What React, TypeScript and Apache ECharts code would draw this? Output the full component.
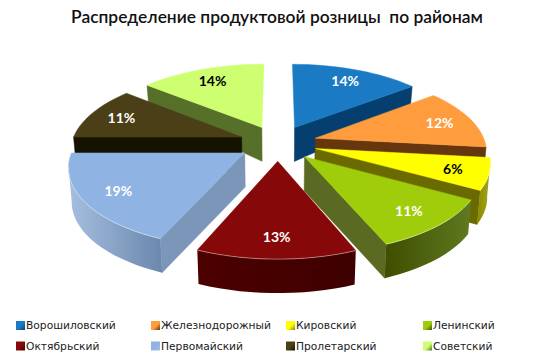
import React, { useEffect, useRef } from "react";
import * as echarts from "echarts";

const titleText = "Распределение продуктовой розницы  по районам";
const districts = ["Ворошиловский", "Железнодорожный", "Кировский", "Ленинский", "Октябрьский", "Первомайский", "Пролетарский", "Советский"];
const shares = [14.4, 12.4, 6.4, 10.6, 12.6, 18.6, 11, 14];
const topColors = ["#1a7bc4", "#ff9c3e", "#ffff00", "#9fcd0b", "#870808", "#8fb4e3", "#4a3f16", "#ceff70"];
const wallColors = ["#043f6f", "#66360f", "#6a6a00", "#5a6a22", "#3f0000", "#7b96b8", "#151300", "#56702a"];
const rimLeft = ["#043f6f", "#66360f", "#8a8a00", "#3f4d00", "#4d0000", "#a5bfdf", "#151300", "#56702a"];
const rimRight = ["#043f6f", "#66360f", "#a5a520", "#5f7a20", "#3e0000", "#6a88ad", "#151300", "#56702a"];
const labelColors = ["#fff", "#fff", "#000", "#fff", "#fff", "#fff", "#fff", "#000"];
const legendColumns = [
  { left: 16, names: [districts[0], districts[4]] },
  { left: 151, names: [districts[1], districts[5]] },
  { left: 286, names: [districts[2], districts[6]] },
  { left: 423, names: [districts[3], districts[7]] },
];

const CX = 278, CY = 143, RX = 170, RY = 77, PERSP = 0.15, EXPLODE = 0.23;
const rad = (d: number) => (d * Math.PI) / 180;
const total = shares.reduce((a, b) => a + b, 0);

function project(u: number, v: number, bottom: boolean): number[] {
  const w = 1 + PERSP * v;
  let x = CX + (RX * u) / w;
  let y = CY - (RY * v) / w;
  if (bottom) {
    const depth = v <= 0.2 ? 34 : 34 - (v - 0.2) * 17;
    x = CX + (x - CX) * 0.985;
    y += depth;
  }
  return [x, y];
}

function sliceAngles(i: number) {
  const before = shares.slice(0, i).reduce((a, b) => a + b, 0);
  const t0 = (before / total) * 360;
  const t1 = ((before + shares[i]) / total) * 360;
  return { t0, t1, tm: (t0 + t1) / 2 };
}

function renderSlice(i: number) {
  const { t0, t1, tm } = sliceAngles(i);
  const ox = EXPLODE * Math.sin(rad(tm));
  const oy = EXPLODE * Math.cos(rad(tm));
  const pt = (t: number, r: number, bottom: boolean) => project(ox + r * Math.sin(rad(t)), oy + r * Math.cos(rad(t)), bottom);

  const ts: number[] = [];
  for (let t = t0; t < t1; t += 3) ts.push(t);
  ts.push(t1);
  const apex = pt(0, 0, false);
  const apexB = pt(0, 0, true);
  const rim = ts.map((t) => pt(t, 1, false));
  const rimB = ts.map((t) => pt(t, 1, true));
  const mid = pt(tm, 1, false);
  const children: any[] = [];

  const radial = (t: number) => {
    const b = pt(t, 1, false);
    const dx = b[0] - apex[0];
    if (Math.abs(dx) < 10) return;
    const lineY = apex[1] + ((b[1] - apex[1]) * (mid[0] - apex[0])) / dx;
    if (mid[1] < lineY) {
      children.push({
        type: "polygon",
        shape: { points: [apex, b, pt(t, 1, true), apexB] },
        style: { fill: wallColors[i], stroke: wallColors[i], lineWidth: 0.5 },
      });
    }
  };
  radial(t0);
  radial(t1);

  const upper: number[][] = [];
  const lower: number[][] = [];
  for (let k = 0; k < rim.length - 1; k++) {
    if (rim[k + 1][0] < rim[k][0]) {
      if (!upper.length) {
        upper.push(rim[k]);
        lower.push(rimB[k]);
      }
      upper.push(rim[k + 1]);
      lower.push(rimB[k + 1]);
    }
  }
  if (upper.length) {
    children.push({
      type: "polygon",
      shape: { points: [...upper, ...lower.slice().reverse()] },
      style: {
        fill: new echarts.graphic.LinearGradient(0, 0, 1, 0, [
          { offset: 0, color: rimLeft[i] },
          { offset: 1, color: rimRight[i] },
        ]),
      },
    });
  }

  children.push({
    type: "polygon",
    shape: { points: [apex, ...rim] },
    style: { fill: topColors[i], stroke: topColors[i], lineWidth: 0.5 },
  });

  if (upper.length) {
    children.push({
      type: "polyline",
      shape: { points: upper },
      style: { fill: "none", stroke: "rgba(255,255,255,0.4)", lineWidth: 1 },
    });
  }

  const lp = pt(tm, 0.8, false);
  children.push({
    type: "text",
    x: lp[0],
    y: lp[1],
    z2: 50,
    style: {
      text: `${Math.round(shares[i])}%`,
      fill: labelColors[i],
      font: 'bold 14px Lato, "Open Sans", sans-serif',
      align: "center",
      verticalAlign: "middle",
    },
  });
  return { type: "group", children };
}

export default function App() {
  const ref = useRef<HTMLDivElement>(null);
  useEffect(() => {
    const chart = echarts.init(ref.current!, null, { renderer: "svg" });
    chart.setOption({
      animation: false,
      backgroundColor: "#fff",
      title: {
        text: titleText,
        left: 272,
        textAlign: "center",
        top: 3,
        textStyle: { fontFamily: 'Lato, "Open Sans", sans-serif', fontSize: 17.4, fontWeight: 600, color: "#111" },
      },
      legend: legendColumns.map((c) => ({
        left: c.left,
        top: 320,
        orient: "vertical",
        itemWidth: 9,
        itemHeight: 9,
        itemGap: 9.5,
        icon: "rect",
        padding: 0,
        selectedMode: false,
        data: c.names,
        textStyle: { fontFamily: '"DejaVu Sans", sans-serif', fontSize: 10.7, color: "#222", padding: [0, 0, 0, -4] },
      })),
      series: districts.map((name, i) => ({
        type: "custom",
        name,
        coordinateSystem: "none",
        z: Math.round((1 - Math.cos(rad(sliceAngles(i).tm))) * 50) + 2,
        itemStyle: {
          color: new echarts.graphic.LinearGradient(0, 0, 1, 1, [
            { offset: 0, color: topColors[i] },
            { offset: 0.55, color: topColors[i] },
            { offset: 1, color: rimLeft[i] },
          ]),
        },
        data: [shares[i]],
        renderItem: () => renderSlice(i),
      })),
    });
    return () => chart.dispose();
  }, []);
  return <div ref={ref} style={{ position: "absolute", left: 0, top: 0, width: 550, height: 357 }} />;
}
